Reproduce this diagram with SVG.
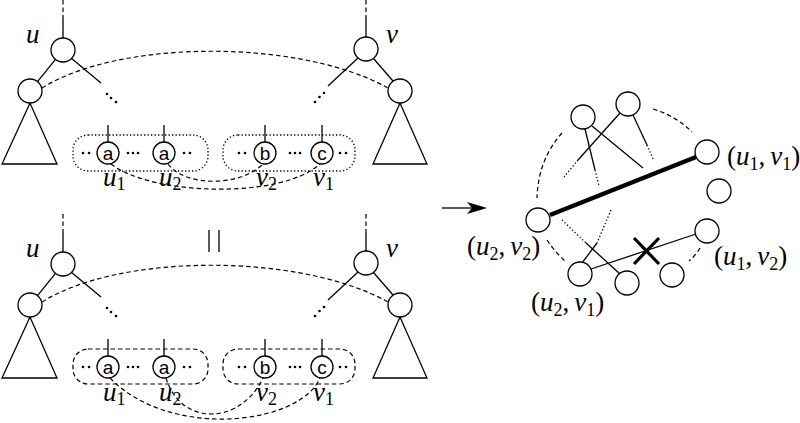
<svg xmlns="http://www.w3.org/2000/svg" width="800" height="423" viewBox="0 0 800 423">
<style>
.n{fill:#fff;stroke:#000;stroke-width:1.3}
.e{fill:none;stroke:#000;stroke-width:1.3}
.d{fill:none;stroke:#000;stroke-width:1.2;stroke-dasharray:4.5 3}
.o{fill:none;stroke:#000;stroke-width:1.3;stroke-dasharray:1.3 2.2}
.t{fill:#fff;stroke:#000;stroke-width:1.3}
.lbl{font-family:"Liberation Serif","Times New Roman",serif;font-size:27px;fill:#000}
.it{font-style:italic}
.sub{font-size:18px}
.ch{font-family:"Liberation Sans",Arial,sans-serif;font-size:19px;fill:#000;text-anchor:middle}
.dot{fill:#000}
</style>
<defs>
<g id="dots2"><circle class="dot" cx="0" cy="0" r="1.3"/><circle class="dot" cx="6" cy="0" r="1.3"/></g>
<g id="dots3"><circle class="dot" cx="0" cy="0" r="1.3"/><circle class="dot" cx="5" cy="0" r="1.3"/><circle class="dot" cx="10" cy="0" r="1.3"/></g>
</defs>

<!-- connectors -->
<g id="connectors">
  <!-- top tree -->
  <line class="d" x1="63" y1="0" x2="63" y2="18"/>
  <line class="e" x1="63" y1="18" x2="63" y2="38"/>
  <line class="e" x1="55.5" y1="59.4" x2="37.5" y2="81.6"/>
  <line class="e" x1="71.6" y1="58.4" x2="101" y2="83"/>
  <circle class="dot" cx="107" cy="94" r="1.3"/><circle class="dot" cx="111" cy="98" r="1.3"/><circle class="dot" cx="116" cy="102" r="1.3"/>
  <line class="d" x1="366" y1="0" x2="366" y2="18"/>
  <line class="e" x1="366" y1="18" x2="366" y2="37"/>
  <line class="e" x1="373.5" y1="58.5" x2="393" y2="81"/>
  <line class="e" x1="358" y1="58" x2="328" y2="86"/>
  <circle class="dot" cx="324" cy="93" r="1.3"/><circle class="dot" cx="319.5" cy="97" r="1.3"/><circle class="dot" cx="315" cy="102" r="1.3"/>
  <path class="d" d="M42,88 C120,39 300,39 388,88"/>
  <line class="e" x1="108" y1="125" x2="108" y2="142"/>
  <line class="e" x1="164" y1="125" x2="164" y2="142"/>
  <line class="e" x1="265" y1="125" x2="265" y2="142"/>
  <line class="e" x1="322" y1="125" x2="322" y2="142"/>
  <path class="d" d="M111,164 C150,195 280,200 320,164"/>
  <path class="d" d="M168,164 C185,187 240,187 263,164"/>

  <!-- equals bars -->
  <line class="e" x1="209" y1="230" x2="209" y2="252"/>
  <line class="e" x1="219" y1="230" x2="219" y2="252"/>

  <!-- bottom tree -->
  <line class="d" x1="63" y1="214" x2="63" y2="232"/>
  <line class="e" x1="63" y1="232" x2="63" y2="252"/>
  <line class="e" x1="55.5" y1="273.4" x2="37.5" y2="295.6"/>
  <line class="e" x1="71.6" y1="272.4" x2="101" y2="297"/>
  <circle class="dot" cx="107" cy="308" r="1.3"/><circle class="dot" cx="111" cy="312" r="1.3"/><circle class="dot" cx="116" cy="316" r="1.3"/>
  <line class="d" x1="366" y1="214" x2="366" y2="232"/>
  <line class="e" x1="366" y1="232" x2="366" y2="251"/>
  <line class="e" x1="373.5" y1="272.5" x2="393" y2="295"/>
  <line class="e" x1="358" y1="272" x2="328" y2="300"/>
  <circle class="dot" cx="324" cy="307" r="1.3"/><circle class="dot" cx="319.5" cy="311" r="1.3"/><circle class="dot" cx="315" cy="316" r="1.3"/>
  <path class="d" d="M42,302 C120,253 300,253 388,302"/>
  <line class="e" x1="108" y1="339" x2="108" y2="356"/>
  <line class="e" x1="164" y1="339" x2="164" y2="356"/>
  <line class="e" x1="265" y1="339" x2="265" y2="356"/>
  <line class="e" x1="322" y1="339" x2="322" y2="356"/>
  <path class="d" d="M110,378 C170,440 300,425 320,378"/>
  <path class="d" d="M166,378 C180,426 240,426 263,378"/>

  <!-- arrow -->
  <line class="e" x1="442" y1="208" x2="474" y2="208"/>
  <polygon points="487,208 467,202 472,208 467,214" fill="#000"/>

  <!-- right graph -->
  <line x1="550" y1="215" x2="696" y2="157" stroke="#000" stroke-width="4.5"/>
  <line class="e" x1="585" y1="129" x2="595" y2="170"/>
  <line class="o" x1="595" y1="170" x2="599" y2="186"/>
  <line class="e" x1="592" y1="126" x2="643" y2="168"/>
  <line class="e" x1="620" y1="113" x2="578" y2="160"/>
  <line class="o" x1="578" y1="160" x2="564" y2="177"/>
  <line class="e" x1="633" y1="115" x2="647" y2="145"/>
  <line class="o" x1="647" y1="145" x2="654" y2="161"/>
  <path class="d" d="M653,109 Q676,116 692,132"/>
  <path class="d" d="M562,133 Q538,160 537,198"/>
  <path class="d" d="M547,240 Q555,252 566,262"/>
  <path class="d" d="M700,248 Q696,255 689,261"/>
  <line class="o" x1="562" y1="220" x2="586" y2="243"/>
  <line class="e" x1="586" y1="243" x2="620" y2="274"/>
  <line class="o" x1="611" y1="210" x2="597" y2="243"/>
  <line class="e" x1="597" y1="243" x2="582" y2="263"/>
  <line class="e" x1="591" y1="269" x2="696" y2="234"/>
  <line x1="634" y1="238" x2="659" y2="264" stroke="#000" stroke-width="3.2"/>
  <line x1="634" y1="264" x2="659" y2="238" stroke="#000" stroke-width="3.2"/>
</g>

<!-- top tree nodes -->
<g id="top-u"><circle class="n" cx="63" cy="50" r="12"/><text class="lbl it" x="26" y="43">u</text></g>
<g id="top-u-left"><polygon class="t" points="30,103 2,164 57,164"/><circle class="n" cx="30" cy="91" r="12"/></g>
<g id="top-v"><circle class="n" cx="366" cy="49" r="12"/><text class="lbl it" x="386" y="43">v</text></g>
<g id="top-v-right"><polygon class="t" points="400,103 373,164 427,164"/><circle class="n" cx="400" cy="91" r="12"/></g>
<g id="top-box-left"><rect class="o" x="73" y="135" width="135" height="36" rx="15"/>
  <use href="#dots2" x="83" y="153"/><use href="#dots3" x="128" y="153"/><use href="#dots2" x="184" y="153"/></g>
<g id="top-box-right"><rect class="o" x="223" y="135" width="132" height="36" rx="15"/>
  <use href="#dots2" x="239" y="153"/><use href="#dots3" x="290" y="153"/><use href="#dots2" x="340" y="153"/></g>
<g id="top-a1"><circle class="n" cx="108" cy="153" r="11"/><text class="ch" x="108" y="159.5">a</text><text class="lbl it" x="103" y="186">u<tspan class="sub" font-style="normal" dy="4">1</tspan></text></g>
<g id="top-a2"><circle class="n" cx="164" cy="153" r="11"/><text class="ch" x="164" y="159.5">a</text><text class="lbl it" x="159" y="186">u<tspan class="sub" font-style="normal" dy="4">2</tspan></text></g>
<g id="top-b"><circle class="n" cx="265" cy="153" r="11"/><text class="ch" x="265" y="159.5">b</text><text class="lbl it" x="256" y="186">v<tspan class="sub" font-style="normal" dy="4">2</tspan></text></g>
<g id="top-c"><circle class="n" cx="322" cy="153" r="11"/><text class="ch" x="322" y="159.5">c</text><text class="lbl it" x="313" y="186">v<tspan class="sub" font-style="normal" dy="4">1</tspan></text></g>

<!-- bottom tree nodes -->
<g id="bot-u"><circle class="n" cx="63" cy="264" r="12"/><text class="lbl it" x="26" y="257">u</text></g>
<g id="bot-u-left"><polygon class="t" points="30,317 2,378 57,378"/><circle class="n" cx="30" cy="305" r="12"/></g>
<g id="bot-v"><circle class="n" cx="366" cy="263" r="12"/><text class="lbl it" x="386" y="257">v</text></g>
<g id="bot-v-right"><polygon class="t" points="400,317 373,378 427,378"/><circle class="n" cx="400" cy="305" r="12"/></g>
<g id="bot-box-left"><rect class="d" x="73" y="349" width="135" height="35" rx="15"/>
  <use href="#dots2" x="83" y="367"/><use href="#dots3" x="128" y="367"/><use href="#dots2" x="184" y="367"/></g>
<g id="bot-box-right"><rect class="d" x="223" y="349" width="132" height="35" rx="15"/>
  <use href="#dots2" x="239" y="367"/><use href="#dots3" x="290" y="367"/><use href="#dots2" x="340" y="367"/></g>
<g id="bot-a1"><circle class="n" cx="108" cy="367" r="11"/><text class="ch" x="108" y="373.5">a</text><text class="lbl it" x="103" y="401">u<tspan class="sub" font-style="normal" dy="4">1</tspan></text></g>
<g id="bot-a2"><circle class="n" cx="164" cy="367" r="11"/><text class="ch" x="164" y="373.5">a</text><text class="lbl it" x="159" y="401">u<tspan class="sub" font-style="normal" dy="4">2</tspan></text></g>
<g id="bot-b"><circle class="n" cx="265" cy="367" r="11"/><text class="ch" x="265" y="373.5">b</text><text class="lbl it" x="256" y="401">v<tspan class="sub" font-style="normal" dy="4">2</tspan></text></g>
<g id="bot-c"><circle class="n" cx="322" cy="367" r="11"/><text class="ch" x="322" y="373.5">c</text><text class="lbl it" x="313" y="401">v<tspan class="sub" font-style="normal" dy="4">1</tspan></text></g>

<!-- right graph nodes -->
<g id="g-u2v2"><circle class="n" cx="538" cy="220" r="12"/><text class="lbl" x="467" y="255">(<tspan class="it">u</tspan><tspan class="sub" dy="5">2</tspan><tspan dy="-5">,</tspan><tspan class="it" dx="5">v</tspan><tspan class="sub" dy="5">2</tspan><tspan dy="-5">)</tspan></text></g>
<g id="g-n2"><circle class="n" cx="583" cy="117" r="12"/></g>
<g id="g-n3"><circle class="n" cx="628" cy="104" r="12"/></g>
<g id="g-u1v1"><circle class="n" cx="707" cy="152" r="12"/><text class="lbl" x="727" y="165">(<tspan class="it">u</tspan><tspan class="sub" dy="5">1</tspan><tspan dy="-5">,</tspan><tspan class="it" dx="5">v</tspan><tspan class="sub" dy="5">1</tspan><tspan dy="-5">)</tspan></text></g>
<g id="g-n5"><circle class="n" cx="719" cy="191" r="12"/></g>
<g id="g-u1v2"><circle class="n" cx="707" cy="231" r="12"/><text class="lbl" x="714" y="265">(<tspan class="it">u</tspan><tspan class="sub" dy="5">1</tspan><tspan dy="-5">,</tspan><tspan class="it" dx="5">v</tspan><tspan class="sub" dy="5">2</tspan><tspan dy="-5">)</tspan></text></g>
<g id="g-n7"><circle class="n" cx="672" cy="275" r="12"/></g>
<g id="g-n8"><circle class="n" cx="627" cy="283" r="12"/></g>
<g id="g-u2v1"><circle class="n" cx="580" cy="274" r="12"/><text class="lbl" x="531" y="311">(<tspan class="it">u</tspan><tspan class="sub" dy="5">2</tspan><tspan dy="-5">,</tspan><tspan class="it" dx="5">v</tspan><tspan class="sub" dy="5">1</tspan><tspan dy="-5">)</tspan></text></g>
</svg>
